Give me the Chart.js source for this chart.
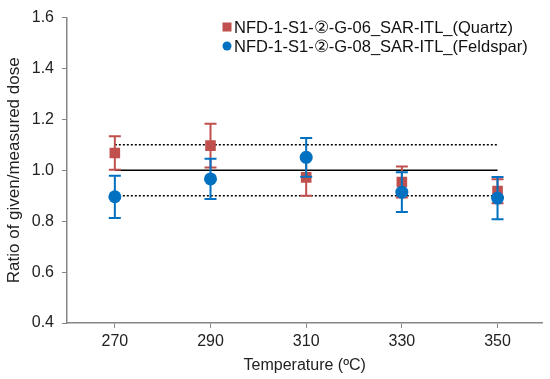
<!DOCTYPE html>
<html>
<head>
<meta charset="utf-8">
<script src="https://cdn.jsdelivr.net/npm/chart.js@4/dist/chart.umd.min.js"></script>
<style>
  html, body { margin: 0; padding: 0; background: #fff; }
  #wrap { width: 550px; height: 379px; }
</style>
</head>
<body>
<div id="wrap"><canvas id="grafico"></canvas></div>
<script>
// Dados
const temperaturas = [270, 290, 310, 330, 350];
const quartzo = [1.068, 1.097, 0.972, 0.954, 0.918];
const quartzoErro = [0.066, 0.086, 0.072, 0.061, 0.047];
const feldspato = [0.896, 0.966, 1.051, 0.914, 0.891];
const feldspatoErro = [0.083, 0.079, 0.076, 0.078, 0.083];
const linhaRef = [1.0, 1.0, 1.0, 1.0, 1.0];
const limiteSup = [1.1, 1.1, 1.1, 1.1, 1.1];
const limiteInf = [0.9, 0.9, 0.9, 0.9, 0.9];
const yTicks = [0.4, 0.6, 0.8, 1.0, 1.2, 1.4, 1.6];

const vermelho = '#C0504D';
const azul = '#0070C0';
const fonte = 'Arial, "Liberation Sans", sans-serif';

function pontos(vals) {
    return temperaturas.map((t, i) => ({ x: t, y: vals[i] }));
}

// Barras de erro desenhadas antes de cada série
const barrasErro = {
    id: 'barrasErro',
    beforeDatasetDraw(chart, args) {
        const ds = chart.data.datasets[args.index];
        if (!ds.erros) return;
        const { ctx } = chart;
        const xs = chart.scales.x, ys = chart.scales.y;
        ctx.save();
        ctx.strokeStyle = ds.borderColor;
        ctx.lineWidth = 2;
        ds.data.forEach((p, i) => {
            const px = xs.getPixelForValue(p.x);
            const top = ys.getPixelForValue(p.y + ds.erros[i]);
            const bot = ys.getPixelForValue(p.y - ds.erros[i]);
            ctx.beginPath();
            ctx.moveTo(px, top); ctx.lineTo(px, bot);
            ctx.moveTo(px - 6, top); ctx.lineTo(px + 6, top);
            ctx.moveTo(px - 6, bot); ctx.lineTo(px + 6, bot);
            ctx.stroke();
        });
        ctx.restore();
    }
};

// Legenda dentro da área do gráfico
const legenda = {
    id: 'legenda',
    afterDraw(chart) {
        const { ctx } = chart;
        const itens = [
            { texto: 'NFD-1-S1-②-G-06_SAR-ITL_(Quartz)', cor: vermelho, forma: 'rect' },
            { texto: 'NFD-1-S1-②-G-08_SAR-ITL_(Feldspar)', cor: azul, forma: 'circle' }
        ];
        ctx.save();
        ctx.font = '16.5px ' + fonte;
        ctx.textBaseline = 'middle';
        itens.forEach((it, i) => {
            const y = 27 + i * 19;
            const x = 227;
            ctx.fillStyle = it.cor;
            if (it.forma === 'rect') {
                ctx.fillRect(x - 4.5, y - 4.5, 9, 9);
            } else {
                ctx.beginPath();
                ctx.arc(x, y, 4.5, 0, Math.PI * 2);
                ctx.fill();
            }
            ctx.fillStyle = '#111';
            ctx.fillText(it.texto, x + 7, y + 1);
        });
        ctx.restore();
    }
};

new Chart(document.getElementById('grafico'), {
    type: 'scatter',
    data: {
        datasets: [
            {
                label: 'Feldspar',
                data: pontos(feldspato),
                erros: feldspatoErro,
                backgroundColor: azul,
                borderColor: azul,
                pointStyle: 'circle',
                pointRadius: 6.5,
                pointBorderWidth: 0,
                order: 0
            },
            {
                label: 'Quartz',
                data: pontos(quartzo),
                erros: quartzoErro,
                backgroundColor: vermelho,
                borderColor: vermelho,
                pointStyle: 'rect',
                pointRadius: 7.5,
                pointBorderWidth: 0,
                order: 1
            },
            {
                label: 'ref',
                data: pontos(linhaRef),
                showLine: true,
                borderColor: '#000',
                borderWidth: 1.5,
                pointRadius: 0,
                order: 2
            },
            {
                label: 'sup',
                data: pontos(limiteSup),
                showLine: true,
                borderColor: '#000',
                borderWidth: 1.5,
                borderDash: [2, 2],
                pointRadius: 0,
                order: 2
            },
            {
                label: 'inf',
                data: pontos(limiteInf),
                showLine: true,
                borderColor: '#000',
                borderWidth: 1.5,
                borderDash: [2, 2],
                pointRadius: 0,
                order: 2
            }
        ]
    },
    options: {
        responsive: true,
        maintainAspectRatio: false,
        animation: false,
        layout: { padding: { top: 13, right: 2, left: 0, bottom: 0 } },
        plugins: {
            legend: { display: false },
            tooltip: { enabled: false }
        },
        scales: {
            x: {
                type: 'linear',
                min: 260,
                max: 359.4,
                afterBuildTicks: s => { s.ticks = temperaturas.map(v => ({ value: v })); },
                afterFit: s => { s.height = 56; },
                grid: { drawOnChartArea: false, tickLength: 5, color: '#868686', lineWidth: 1 },
                border: { color: '#868686', width: 1.5 },
                ticks: { color: '#222', font: { size: 16, family: fonte }, padding: 4 },
                title: { display: true, text: 'Temperature (ºC)', color: '#222', font: { size: 16, family: fonte }, padding: { top: -3 } }
            },
            y: {
                min: 0.4,
                max: 1.6,
                afterBuildTicks: s => { s.ticks = yTicks.map(v => ({ value: v })); },
                afterFit: s => { s.width = 67; },
                grid: { drawOnChartArea: false, tickLength: 5, color: '#868686', lineWidth: 1 },
                border: { color: '#868686', width: 1.5 },
                ticks: { color: '#222', font: { size: 16, family: fonte }, padding: 8, callback: v => v.toFixed(1) },
                title: { display: true, text: 'Ratio of given/measured dose', color: '#222', font: { size: 17, family: fonte }, padding: { bottom: 0 } }
            }
        }
    },
    plugins: [barrasErro, legenda]
});
</script>
</body>
</html>
